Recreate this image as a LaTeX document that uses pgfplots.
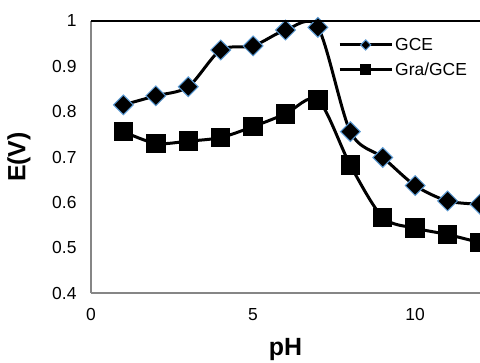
\documentclass[border=0pt]{standalone}
\usepackage{fontspec}
\setmainfont{Liberation Sans}
\usepackage{pgfplots}
\pgfplotsset{compat=1.18}
\definecolor{mkblue}{RGB}{91,155,213}
\definecolor{axgray}{RGB}{134,134,134}
\pgfplotsset{
  gcelegend/.style={legend image code/.code={\draw[mark repeat=2,mark phase=2,##1,mark size=3.6bp] plot coordinates {(0bp,0bp) (26bp,0bp) (52bp,0bp)};}},
  gralegend/.style={legend image code/.code={\draw[mark repeat=2,mark phase=2,##1,mark size=5bp] plot coordinates {(0bp,0bp) (26bp,0bp) (52bp,0bp)};}},
}
\begin{document}
\begin{tikzpicture}
\begin{axis}[
  name=ax,
  scale only axis,
  width=389bp, height=272bp,
  xmin=0, xmax=12, ymin=0.4, ymax=1,
  xtick={0,5,10}, ytick={0.4,0.5,0.6,0.7,0.8,0.9,1},
  major tick length=0pt,
  axis x line=bottom, axis y line=left,
  axis line style={axgray, line width=1.4bp, -},
  clip mode=individual,
  tick label style={font=\fontsize{17.5}{20}\selectfont, black},
  /pgf/number format/assume math mode=true,
  yticklabel style={/pgf/number format/fixed, /pgf/number format/precision=1, xshift=-11bp},
  xticklabel style={yshift=-12bp},
  xlabel={pH}, ylabel={E(V)},
  label style={font=\bfseries\fontsize{25}{30}\selectfont},
  xlabel style={at={(axis description cs:0.5,-0.228)}, anchor=base},
  ylabel style={at={(axis description cs:-0.185,0.5)}, anchor=center},
  legend style={draw=none, fill=none, at={(axis description cs:0.635,0.945)}, anchor=north west,
    font=\fontsize{17.5}{20}\selectfont, row sep=7bp, inner sep=0pt},
  legend cell align=left,
  after end axis/.code={\draw[black, line width=1.4bp] (rel axis cs:0,1) -- (rel axis cs:1,1);},
]
\addplot[black, line width=3bp, smooth, tension=0.5, mark=square*, mark size=7bp,
  mark options={rotate=45, fill=black, draw=mkblue, line width=1bp, solid}, gcelegend]
coordinates {(1,0.815) (2,0.835) (3,0.855) (4,0.936) (5,0.945) (6,0.980) (7,0.986) (8,0.756) (9,0.699) (10,0.637) (11,0.603) (12,0.596)};
\addlegendentry{GCE}
\addplot[black, line width=3bp, smooth, tension=0.5, mark=square*, mark size=9.2bp,
  mark options={fill=black, draw=black, line width=0pt, solid}, gralegend]
coordinates {(1,0.756) (2,0.730) (3,0.735) (4,0.743) (5,0.767) (6,0.795) (7,0.826) (8,0.682) (9,0.567) (10,0.543) (11,0.529) (12,0.511)};
\addlegendentry{Gra/GCE}
\end{axis}
\pgfresetboundingbox
\path ([xshift=-91bp,yshift=-70bp]ax.south west) rectangle ([yshift=21bp]ax.north east);
\end{tikzpicture}
\end{document}
